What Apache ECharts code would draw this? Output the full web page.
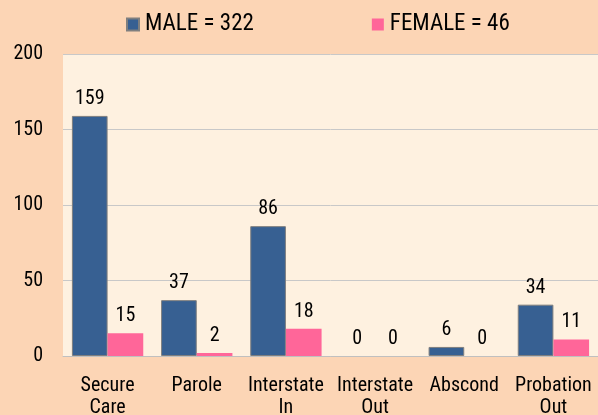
<!DOCTYPE html>
<html>
<head>
<meta charset="utf-8">
<script src="https://cdn.jsdelivr.net/npm/echarts@6/dist/echarts.min.js"></script>
<style>
  html, body { margin: 0; padding: 0; background: #fcd5b5; }
  #chart { width: 598px; height: 415px; }
</style>
</head>
<body>
<div id="chart"></div>
<script>
// categories + counts
const categories = ['Secure\nCare', 'Parole', 'Interstate\nIn', 'Interstate\nOut', 'Abscond', 'Probation\nOut']
const maleValues = [159, 37, 86, 0, 6, 34]
const femaleValues = [15, 2, 18, 0, 0, 11]
const legendNames = ['MALE = 322', 'FEMALE = 46']
const yTicks = { min: 0, max: 200, interval: 50 }

const FONT = "'Roboto Condensed', 'Liberation Sans', sans-serif"
const TEXT = '#000000'

// zero-height bars get no outline (reference shows nothing there)
const withBorder = (vals) => vals.map((v) => ({ value: v, itemStyle: { borderWidth: v > 0 ? 1 : 0 } }))

const chart = echarts.init(document.getElementById('chart'))

chart.setOption({
  animation: false,
  backgroundColor: '#fcd5b5',
  grid: {
    left: 63, right: 0, top: 54, bottom: 59,
    outerBoundsMode: 'none',  // v6: don't shrink grid for the 2-line x labels
    show: true, backgroundColor: '#fef1e0', borderWidth: 0,
  },
  legend: {
    data: legendNames,
    top: 8,
    left: 121,
    itemWidth: 12,
    itemHeight: 12,
    itemGap: 118,
    icon: 'rect',
    textStyle: { fontFamily: FONT, fontSize: 23, color: TEXT, padding: [0, 0, 0, 1] },
  },
  xAxis: {
    type: 'category',
    data: categories,
    axisLine: { lineStyle: { color: '#c0c0c0', width: 1 } },
    axisTick: { show: false },
    axisLabel: {
      fontFamily: FONT,
      fontSize: 20,
      color: TEXT,
      lineHeight: 22,
      margin: 19,
      interval: 0,
    },
  },
  yAxis: {
    type: 'value',
    min: yTicks.min,
    max: yTicks.max,
    interval: yTicks.interval,
    axisLine: { show: false },
    axisTick: { show: false },
    axisLabel: { fontFamily: FONT, fontSize: 20, color: TEXT, margin: 20 },
    splitLine: { lineStyle: { color: '#c8c8c8', width: 1 } },
  },
  series: [
    {
      name: legendNames[0],
      type: 'bar',
      data: withBorder(maleValues),
      barGap: '0%',
      barCategoryGap: '20%',
      itemStyle: { color: '#376092', borderColor: '#7f7f7f', borderWidth: 1 },
      label: { show: true, position: 'top', distance: 7, fontFamily: FONT, fontSize: 20, color: TEXT },
    },
    {
      name: legendNames[1],
      type: 'bar',
      data: femaleValues,
      barGap: '0%',
      barCategoryGap: '20%',
      itemStyle: { color: '#ff6699' },
      label: { show: true, position: 'top', distance: 7, fontFamily: FONT, fontSize: 20, color: TEXT },
    },
  ],
})
</script>
</body>
</html>
